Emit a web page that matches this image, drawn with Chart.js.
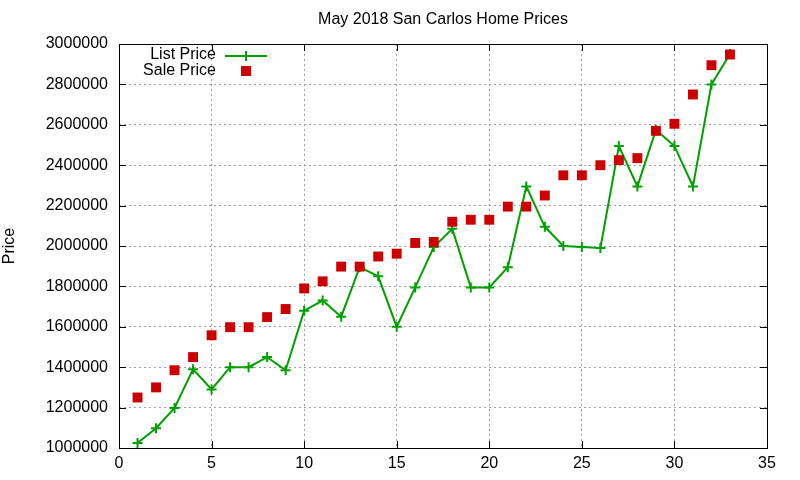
<!DOCTYPE html>
<html lang="en">
<head>
<meta charset="UTF-8">
<title>May 2018 San Carlos Home Prices</title>
<script src="https://cdn.jsdelivr.net/npm/chart.js@4.4.1/dist/chart.umd.min.js"></script>
<style>
    html, body { margin: 0; padding: 0; background: #ffffff; }
    #wrap { width: 800px; height: 480px; }
</style>
</head>
<body>
<div id="wrap"><canvas id="chart" width="800" height="480"></canvas></div>
<script>
    const titleText = 'May 2018 San Carlos Home Prices';
    const houseIndex = [1, 2, 3, 4, 5, 6, 7, 8, 9, 10, 11, 12, 13, 14, 15, 16, 17,
                        18, 19, 20, 21, 22, 23, 24, 25, 26, 27, 28, 29, 30, 31, 32, 33];
    const listPrice = [1025000, 1098000, 1198000, 1390000, 1290000, 1400000, 1400000, 1450000,
                       1385000, 1680000, 1730000, 1650000, 1895000, 1850000, 1600000, 1795000,
                       1995000, 2085000, 1795000, 1795000, 1895000, 2295000, 2095000, 2000000,
                       1995000, 1990000, 2495000, 2295000, 2575000, 2495000, 2295000, 2800000, 2950000];
    const salePrice = [1250000, 1300000, 1385000, 1450000, 1558000, 1598000, 1598000, 1648000,
                       1688000, 1790000, 1825000, 1898000, 1898000, 1948000, 1962000, 2015000,
                       2020000, 2120000, 2130000, 2130000, 2195000, 2195000, 2250000, 2350000,
                       2350000, 2400000, 2425000, 2435000, 2570000, 2605000, 2750000, 2895000, 2948000];
    const xTicks = [0, 5, 10, 15, 20, 25, 30, 35];
    const yTicks = [1000000, 1200000, 1400000, 1600000, 1800000, 2000000,
                    2200000, 2400000, 2600000, 2800000, 3000000];

    const green = '#00a000';
    const red = '#cc0000';
    const font = 'Liberation Sans, Arial, sans-serif';

    // gnuplot-like frame, inner ticks, title and key
    const gnuFrame = {
        id: 'gnuFrame',
        afterDraw(chart) {
            const ctx = chart.ctx;
            const a = chart.chartArea;
            const xs = chart.scales.x, ys = chart.scales.y;
            ctx.save();
            ctx.strokeStyle = '#000';
            ctx.lineWidth = 1;
            ctx.beginPath();
            xTicks.forEach(v => {
                const px = Math.round(xs.getPixelForValue(v)) + 0.5;
                ctx.moveTo(px, a.bottom); ctx.lineTo(px, a.bottom - 7);
                ctx.moveTo(px, a.top); ctx.lineTo(px, a.top + 7);
            });
            yTicks.forEach(v => {
                const py = Math.round(ys.getPixelForValue(v)) + 0.5;
                ctx.moveTo(a.left, py); ctx.lineTo(a.left + 7, py);
                ctx.moveTo(a.right, py); ctx.lineTo(a.right - 7, py);
            });
            ctx.stroke();
            ctx.strokeRect(Math.round(a.left) + 0.5, Math.round(a.top) + 0.5,
                           Math.round(a.right - a.left), Math.round(a.bottom - a.top));

            ctx.fillStyle = '#000';
            ctx.font = '16px ' + font;
            ctx.textAlign = 'center';
            ctx.textBaseline = 'middle';
            ctx.fillText(titleText, (a.left + a.right) / 2, 20);

            // key
            ctx.textAlign = 'right';
            ctx.fillText(chart.data.datasets[0].label, a.left + 97, a.top + 11);
            ctx.fillText(chart.data.datasets[1].label, a.left + 97, a.top + 27);
            ctx.strokeStyle = green;
            ctx.lineWidth = 2;
            ctx.beginPath();
            ctx.moveTo(a.left + 106, a.top + 12); ctx.lineTo(a.left + 148, a.top + 12);
            ctx.moveTo(a.left + 127, a.top + 7); ctx.lineTo(a.left + 127, a.top + 17);
            ctx.stroke();
            ctx.fillStyle = red;
            ctx.fillRect(a.left + 122, a.top + 22, 10, 10);
            ctx.restore();
        }
    };

    new Chart(document.getElementById('chart'), {
        type: 'line',
        data: {
            labels: houseIndex,
            datasets: [
                {
                    label: 'List Price',
                    data: houseIndex.map((x, i) => ({ x: x, y: listPrice[i] })),
                    borderColor: green,
                    backgroundColor: green,
                    borderWidth: 2,
                    pointStyle: 'cross',
                    pointRadius: 5,
                    pointBorderWidth: 2,
                    pointHoverRadius: 5,
                    tension: 0,
                    order: 2
                },
                {
                    label: 'Sale Price',
                    data: houseIndex.map((x, i) => ({ x: x, y: salePrice[i] })),
                    showLine: false,
                    borderColor: red,
                    backgroundColor: red,
                    pointStyle: 'rect',
                    pointRadius: 7,
                    pointBorderWidth: 0,
                    pointHoverRadius: 7,
                    order: 1
                }
            ]
        },
        options: {
            responsive: false,
            animation: false,
            layout: { padding: { top: 44, right: 33, left: 0, bottom: 0 } },
            plugins: {
                legend: { display: false },
                title: { display: false },
                tooltip: { enabled: false }
            },
            scales: {
                x: {
                    type: 'linear',
                    min: 0,
                    max: 35,
                    afterBuildTicks: s => { s.ticks = xTicks.map(v => ({ value: v })); },
                    afterFit: s => { s.height = 32; },
                    grid: { color: '#a0a0a0', drawTicks: false },
                    border: { display: false, dash: [2, 3] },
                    ticks: { color: '#000', font: { family: font, size: 16 }, padding: 6, maxRotation: 0 }
                },
                y: {
                    min: 1000000,
                    max: 3000000,
                    afterBuildTicks: s => { s.ticks = yTicks.map(v => ({ value: v })); },
                    afterFit: s => { s.width = 119; },
                    grid: { color: '#a0a0a0', drawTicks: false },
                    border: { display: false, dash: [2, 3] },
                    ticks: { color: '#000', font: { family: font, size: 16 }, padding: 11,
                             callback: v => String(v) },
                    title: { display: true, text: 'Price', color: '#000',
                             font: { family: font, size: 16 }, padding: { top: 0, bottom: 0 } }
                }
            }
        },
        plugins: [gnuFrame]
    });
</script>
</body>
</html>
